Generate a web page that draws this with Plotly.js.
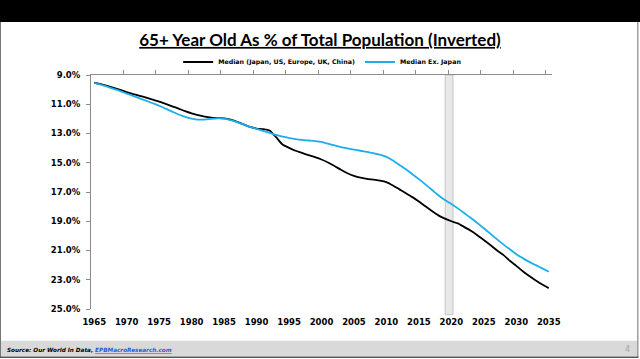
<!DOCTYPE html>
<html><head><meta charset="utf-8">
<script src="https://cdn.plot.ly/plotly-3.0.1.min.js"></script>
<style>html,body{margin:0;padding:0;background:#fff;}#chart{width:640px;height:359px;}</style>
</head><body><div id="chart"></div>
<script>
const years = [1965,1966,1967,1968,1969,1970,1971,1972,1973,1974,1975,1976,1977,1978,1979,1980,1981,1982,1983,1984,1985,1986,1987,1988,1989,1990,1991,1992,1993,1994,1995,1996,1997,1998,1999,2000,2001,2002,2003,2004,2005,2006,2007,2008,2009,2010,2011,2012,2013,2014,2015,2016,2017,2018,2019,2020,2021,2022,2023,2024,2025,2026,2027,2028,2029,2030,2031,2032,2033,2034,2035];
const medianAll = [9.53,9.63,9.75,9.88,10.02,10.17,10.30,10.42,10.55,10.69,
10.82,10.98,11.14,11.30,11.47,11.62,11.75,11.85,11.92,11.95,
11.97,12.05,12.20,12.38,12.55,12.66,12.70,12.80,13.25,13.75,
13.98,14.18,14.33,14.48,14.62,14.78,14.98,15.22,15.48,15.72,
15.90,16.02,16.10,16.16,16.22,16.32,16.55,16.82,17.08,17.35,
17.65,17.98,18.30,18.60,18.82,19.00,19.15,19.40,19.65,19.95,
20.28,20.62,20.98,21.30,21.70,22.05,22.42,22.75,23.05,23.33,23.58];
const medianExJapan = [9.53,9.66,9.80,9.95,10.10,10.27,10.43,10.60,10.76,10.93,
11.10,11.30,11.50,11.70,11.86,11.98,12.05,12.05,12.00,11.97,
11.98,12.08,12.22,12.38,12.55,12.68,12.82,12.95,13.10,13.22,
13.30,13.38,13.44,13.48,13.52,13.58,13.70,13.82,13.93,14.02,
14.10,14.18,14.26,14.35,14.45,14.60,14.85,15.15,15.45,15.78,
16.12,16.48,16.85,17.22,17.55,17.82,18.12,18.45,18.78,19.12,
19.48,19.85,20.22,20.58,20.92,21.25,21.52,21.78,22.00,22.22,22.45];
const seriesNames = ["Median (Japan, US, Europe, UK, China)", "Median Ex. Japan"];
const yTickVals = [9,11,13,15,17,19,21,23,25];
const yTickText = ["9.0%","11.0%","13.0%","15.0%","17.0%","19.0%","21.0%","23.0%","25.0%"];
const xLabelVals = [1965,1970,1975,1980,1985,1990,1995,2000,2005,2010,2015,2020,2025,2030,2035];
const xTickVals = [1969.5,1974.5,1979.5,1984.5,1989.5,1994.5,1999.5,2004.5,2009.5,2014.5,2019.5,2024.5,2029.5,2034.5];
const highlight = {start: 2019.05, end: 2020.25};
const titleText = "65+ Year Old As % of Total Population (Inverted)";

// layout geometry (pixels)
const W = 640, H = 359;
const L = 91, R = 551.7, T = 75, B = 309.3;
const px = x => (x - L) / (R - L);
const py = y => (B - y) / (B - T);

const tickFont = {family: "DejaVu Sans", size: 8.5, color: "#000", weight: 700};

const traces = [
  {x: years, y: medianAll, name: "<b>" + seriesNames[0] + "</b>", type: "scatter", mode: "lines",
   line: {color: "#000000", width: 1.8, shape: "spline", smoothing: 0.6}, xaxis: "x", yaxis: "y"},
  {x: years, y: medianExJapan, name: "<b>" + seriesNames[1] + "</b>", type: "scatter", mode: "lines",
   line: {color: "#1AAEEB", width: 1.8, shape: "spline", smoothing: 0.6}, xaxis: "x2", yaxis: "y"}
];

const shapes = [
  {type: "rect", xref: "paper", yref: "paper", x0: px(0), x1: px(W), y0: py(22), y1: py(0),
   fillcolor: "#000", line: {width: 0}, layer: "below"},
  {type: "rect", xref: "paper", yref: "paper", x0: px(1), x1: px(637), y0: py(356.5), y1: py(341),
   fillcolor: "#d9d9d9", line: {width: 0}, layer: "below"},
  {type: "line", xref: "paper", yref: "paper", x0: px(0.5), x1: px(0.5), y0: py(22), y1: py(358),
   line: {color: "#6e6e6e", width: 1}},
  {type: "line", xref: "paper", yref: "paper", x0: px(637.5), x1: px(637.5), y0: py(22), y1: py(358),
   line: {color: "#6e6e6e", width: 1}},
  {type: "line", xref: "paper", yref: "paper", x0: px(0), x1: px(638), y0: py(357.5), y1: py(357.5),
   line: {color: "#555", width: 1.5}},
  {type: "rect", xref: "x", yref: "paper", x0: highlight.start, x1: highlight.end, y0: py(315), y1: 1,
   fillcolor: "#e8e8e8", line: {color: "#c4c4c4", width: 1}, layer: "below"}
];

const annotations = [
  {xref: "paper", yref: "paper", x: px(5), y: py(350.5), xanchor: "left", yanchor: "middle", showarrow: false,
   text: "<b><i>Source: Our World In Data, <span style='color:#1f5fd6'><u>EPBMacroResearch.com</u></span></i></b>",
   font: {family: "DejaVu Sans", size: 5.7, color: "#000", weight: 700}},
  {xref: "paper", yref: "paper", x: px(627), y: py(350), xanchor: "center", yanchor: "middle", showarrow: false,
   text: "4", font: {family: "DejaVu Sans", size: 8, color: "#a6a6a6"}}
];

const layout = {
  width: W, height: H,
  margin: {l: L, r: W - R, t: T, b: H - B, pad: 0},
  paper_bgcolor: "rgba(0,0,0,0)", plot_bgcolor: "rgba(0,0,0,0)",
  showlegend: true,
  title: {text: "<b>" + titleText + "</b>", x: 0.5, xref: "container", xanchor: "center",
          y: 1 - 40 / H, yref: "container", yanchor: "middle",
          font: {family: "Lato", size: 17, color: "#000", lineposition: "under"}},
  legend: {orientation: "h", x: px(322), xanchor: "center", y: py(62), yanchor: "middle",
           font: {family: "DejaVu Sans", size: 6.3, color: "#000", weight: 700},
           itemwidth: 30, tracegroupgap: 0, bgcolor: "rgba(0,0,0,0)"},
  xaxis: {range: [1964.5, 2035.5], side: "top", anchor: "y", showticklabels: false,
          tickvals: xTickVals, ticks: "outside", ticklen: 4, tickcolor: "#8c8c8c", tickwidth: 1,
          showline: true, linecolor: "#8c8c8c", linewidth: 1, showgrid: false, zeroline: false, fixedrange: true},
  xaxis2: {range: [1964.5, 2035.5], overlaying: "x", side: "bottom", anchor: "y",
           tickvals: xLabelVals, ticktext: xLabelVals.map(String), ticks: "", showline: false,
           showgrid: false, zeroline: false, tickfont: tickFont, ticklabelstandoff: 6},
  yaxis: {range: [25, 9], tickvals: yTickVals, ticktext: yTickText, ticks: "outside", ticklen: 4,
          tickcolor: "#8c8c8c", showline: true, linecolor: "#8c8c8c", linewidth: 1,
          showgrid: false, zeroline: false, tickfont: tickFont, ticklabelstandoff: 4},
  shapes: shapes,
  annotations: annotations
};

Plotly.newPlot("chart", traces, layout, {staticPlot: true, displayModeBar: false});
</script></body></html>
